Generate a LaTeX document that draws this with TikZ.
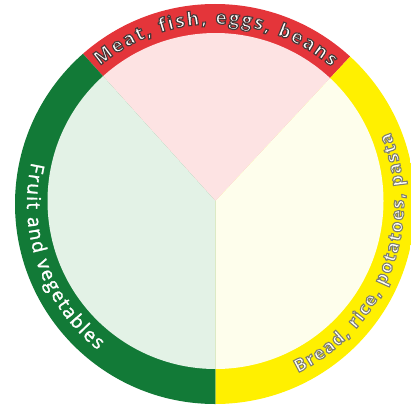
\documentclass[tikz,border=0pt]{standalone}
\usepackage{fontspec}
\newfontfamily\lblfont{Open Sans}[FakeBold=1.5]
\newfontfamily\lblbold{Open Sans Bold}[FakeBold=6]
\usetikzlibrary{decorations.text}
\definecolor{bandred}{HTML}{E4353A}
\definecolor{bandgreen}{HTML}{127A37}
\definecolor{bandyellow}{HTML}{FFF000}
\definecolor{palered}{HTML}{FDE3E3}
\definecolor{palegreen}{HTML}{E3F2E6}
\definecolor{paleyellow}{HTML}{FEFEEC}
% #1 radius, #2 start angle, #3 end angle, #4 font+colour code, #5 text
\newcommand\ringtext[5]{%
  \path[shift={(c)}, decorate,
    decoration={text along path, text align=fit to path,
      text={|#4|#5}}]
    (#2:#1) arc[start angle=#2, end angle=#3, radius=#1];}
\newcommand\outlinestroke[1]{\special{pdf:literal direct #1 RG}}
\begin{document}
\begin{tikzpicture}[x=1pt,y=1pt]
\useasboundingbox (0,0) rectangle (411,408);
\coordinate (c) at (215,205);   % text centre
\coordinate (co) at (215,204);  % outer rim centre
\coordinate (ci) at (215.5,207);  % inner disc / wedge centre
% outer bands
\begin{scope}
  \clip (co) circle[radius=200];
  \fill[bandred]    (ci) -- ++(47:230)  arc[start angle=47,  end angle=132, radius=230] -- cycle;
  \fill[bandgreen]  (ci) -- ++(132:230) arc[start angle=132, end angle=270, radius=230] -- cycle;
  \fill[bandyellow] (ci) -- ++(-90:230) arc[start angle=-90, end angle=47,  radius=230] -- cycle;
\end{scope}
% inner pale sectors
\fill[palered]    (ci) -- ++(47:168)  arc[start angle=47,  end angle=132, radius=168] -- cycle;
\fill[palegreen]  (ci) -- ++(132:168) arc[start angle=132, end angle=270, radius=168] -- cycle;
\fill[paleyellow] (ci) -- ++(-90:168) arc[start angle=-90, end angle=47,  radius=168] -- cycle;
% labels
\ringtext{179}{130}{49.5}{\lblbold\fontsize{19}{20}\selectfont\color{white}\outlinestroke{0.28 0.22 0.22}}{Meat, fish, eggs, beans}
\ringtext{188}{167.5}{231.5}{\lblfont\fontsize{19}{20}\selectfont\color{white}}{Fruit and vegetables}
\ringtext{189}{-64}{22}{\lblbold\fontsize{18}{20}\selectfont\color{white}\outlinestroke{0.5 0.5 0.42}}{Bread, rice, potatoes, pasta}
\end{tikzpicture}
\end{document}
